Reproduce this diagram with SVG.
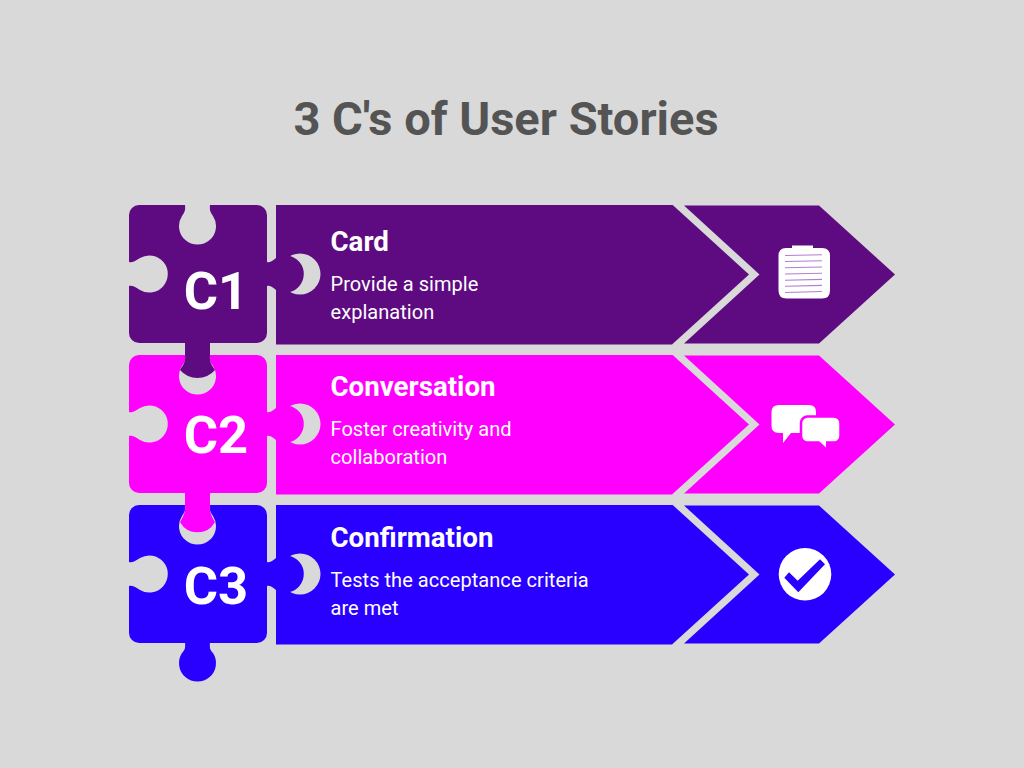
<svg xmlns="http://www.w3.org/2000/svg" width="1024" height="768" viewBox="0 0 1024 768">
<defs>
<path id="arrow" d="M276 205H672.700L749 274.500L672 344.500H276Z"/>
<path id="chev" d="M684 205.500H819L895 274.500L819 343.500H684L759.500 274.500Z"/>
<path id="piece" d="M139 205H185C185.500 210 185 212 182 216A18.500 18.500 0 1 0 213 216C210 212 209.500 210 210 205H257A10 10 0 0 1 267 215V333A10 10 0 0 1 257 343H139A10 10 0 0 1 129 333V286C134 285 136 288 140 290A18.500 18.500 0 1 0 140 258C136 260 134 263 129 262V215A10 10 0 0 1 139 205Z"/>
<path id="tabr" d="M262 262H267C271 263 273 260 276 258A18.500 18.500 0 1 1 276 290C273 288 271 285 267 286H262Z"/>
</defs>
<style>
.bg{fill:#d9d9d9}
.t{font-family:Roboto,"Liberation Sans",sans-serif;fill:#fff}
.h{font-size:27.700px;font-weight:700}
.b{font-size:20px;letter-spacing:.05px}
.c{font-size:52.500px;font-weight:700;text-anchor:middle}
.ln{stroke:#b27fce;stroke-width:1.100;fill:none}
</style>
<rect class="bg" width="1024" height="768"/>
<text x="506" y="135" text-anchor="middle" font-family="Roboto,'Liberation Sans',sans-serif" font-weight="700" font-size="47" fill="#545454">3 C's of User Stories</text>
<g id="connectors"></g>
<g id="row1" fill="#5e0b82">
<use href="#arrow"/><use href="#chev"/>
<circle class="bg" cx="300" cy="274" r="20.500"/>
<use href="#piece"/><use href="#tabr"/>
</g>
<g id="row2" fill="#ff00ff" transform="translate(0 150)">
<use href="#arrow"/><use href="#chev"/>
<circle class="bg" cx="300" cy="274" r="20.500"/>
<use href="#piece"/><use href="#tabr"/>
</g>
<g id="row3" fill="#2900ff" transform="translate(0 300)">
<use href="#arrow"/><use href="#chev"/>
<circle class="bg" cx="300" cy="274" r="20.500"/>
<use href="#piece"/><use href="#tabr"/>
</g>
<path id="tab1" fill="#5e0b82" d="M185 342V355C185.500 360 185 363 180 370A23 23 0 0 0 215 370C210 363 209.500 360 210 355V342Z"/>
<path id="tab2" fill="#ff00ff" d="M185 492V505C185.500 510 185 514 180 522A20 20 0 0 0 215 522C210 514 209.500 510 210 505V492Z"/>
<path id="tab3" fill="#2900ff" d="M185 642C185.500 648 185 650 182 653A18.500 18.500 0 1 0 213 653C210 650 209.500 648 210 642Z"/>
<g id="card">
<path fill="#fff" d="M786 248H792V245.500H813V248H822Q830 248 830 256V290.500Q830 298.500 822 298.500H786.500Q778.500 298.500 778.500 290.500V256Q778.500 248 786 248Z"/>
<path class="ln" d="M785 255.500L822 254.800M785 261.500L822 260.800M785 267.800L822 267M785 274L822 273.200M785 280.200L822 279.400M785 286.200L822 285.400M785 292.500L822 291.500"/>
<text class="t h" x="330.500" y="251">Card</text>
<text class="t b" x="330.500" y="291">Provide a simple</text>
<text class="t b" x="330.500" y="319">explanation</text>
<text class="t c" x="216" y="309">C1</text>
</g>
<g id="conversation">
<path fill="#fff" d="M779 405H809Q816 405 816 412V426Q816 433 809 433H791L783 443V433H779Q771.500 433 771.500 426V412Q771.500 405 779 405Z"/>
<rect x="801" y="416.500" width="39.500" height="26" rx="6.500" fill="#fff" stroke="#ff00ff" stroke-width="2.500"/>
<path fill="#fff" d="M818 440H826V447.500Z"/>
<text class="t h" x="330.500" y="396">Conversation</text>
<text class="t b" x="330.500" y="436">Foster creativity and</text>
<text class="t b" x="330.500" y="464">collaboration</text>
<text class="t c" x="216" y="453">C2</text>
</g>
<g id="confirmation">
<circle cx="805" cy="574.300" r="26.300" fill="#fff"/>
<path fill="#2900ff" d="M784.300 577.700L789 572.300L797.700 580.700L820 559.300L825 564.300L798.300 592.300Z"/>
<text class="t h" x="330.500" y="547">Confirmation</text>
<text class="t b" x="330.500" y="587">Tests the acceptance criteria</text>
<text class="t b" x="330.500" y="615">are met</text>
<text class="t c" x="216" y="604">C3</text>
</g>
</svg>
